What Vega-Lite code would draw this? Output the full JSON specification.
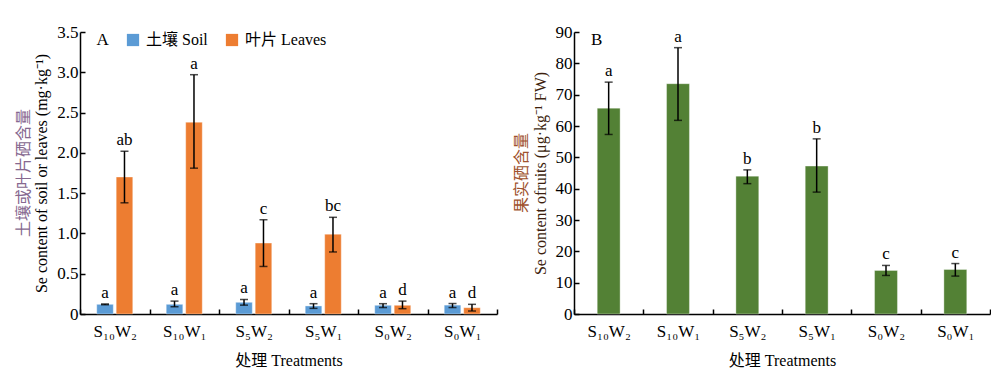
{
  "$schema": "https://vega.github.io/schema/vega-lite/v6.json",
  "padding": {"left": 15, "top": 23, "right": 0, "bottom": 0},
  "spacing": 15,
  "config": {
    "font": "Liberation Serif, Noto Sans CJK SC",
    "view": {"stroke": null},
    "axis": {
      "grid": false,
      "domainColor": "#000000",
      "domainWidth": 1.5,
      "tickColor": "#000000",
      "tickWidth": 1.5,
      "tickSize": -5,
      "labelColor": "#000000",
      "labelFontSize": 17,
      "labelFont": "Liberation Serif, Noto Sans CJK SC",
      "titleFont": "Liberation Serif, Noto Sans CJK SC",
      "titleFontSize": 16,
      "titleFontWeight": "normal",
      "titleColor": "#000000"
    },
    "legend": {
      "labelFont": "Liberation Serif, Noto Sans CJK SC",
      "labelFontSize": 16,
      "labelColor": "#000000"
    },
    "title": {"font": "Liberation Serif, Noto Sans CJK SC", "fontWeight": "normal", "fontSize": 16}
  },
  "datasets": {
    "soilleaves": [
      {"treatment": "S₁₀W₂", "tissue": "土壤 Soil", "value": 0.12, "lo": 0.115, "hi": 0.125, "letter": "a"},
      {"treatment": "S₁₀W₁", "tissue": "土壤 Soil", "value": 0.12, "lo": 0.09, "hi": 0.16, "letter": "a"},
      {"treatment": "S₅W₂", "tissue": "土壤 Soil", "value": 0.145, "lo": 0.11, "hi": 0.18, "letter": "a"},
      {"treatment": "S₅W₁", "tissue": "土壤 Soil", "value": 0.10, "lo": 0.07, "hi": 0.128, "letter": "a"},
      {"treatment": "S₀W₂", "tissue": "土壤 Soil", "value": 0.108, "lo": 0.08, "hi": 0.128, "letter": "a"},
      {"treatment": "S₀W₁", "tissue": "土壤 Soil", "value": 0.11, "lo": 0.08, "hi": 0.13, "letter": "a"},
      {"treatment": "S₁₀W₂", "tissue": "叶片 Leaves", "value": 1.70, "lo": 1.38, "hi": 2.02, "letter": "ab"},
      {"treatment": "S₁₀W₁", "tissue": "叶片 Leaves", "value": 2.38, "lo": 1.81, "hi": 2.97, "letter": "a"},
      {"treatment": "S₅W₂", "tissue": "叶片 Leaves", "value": 0.88, "lo": 0.59, "hi": 1.17, "letter": "c"},
      {"treatment": "S₅W₁", "tissue": "叶片 Leaves", "value": 0.99, "lo": 0.77, "hi": 1.20, "letter": "bc"},
      {"treatment": "S₀W₂", "tissue": "叶片 Leaves", "value": 0.108, "lo": 0.066, "hi": 0.16, "letter": "d"},
      {"treatment": "S₀W₁", "tissue": "叶片 Leaves", "value": 0.078, "lo": 0.037, "hi": 0.12, "letter": "d"}
    ],
    "fruits": [
      {"treatment": "S₁₀W₂", "value": 65.7, "lo": 57.3, "hi": 74.0, "letter": "a"},
      {"treatment": "S₁₀W₁", "value": 73.5, "lo": 61.8, "hi": 85.0, "letter": "a"},
      {"treatment": "S₅W₂", "value": 44.0, "lo": 41.6, "hi": 46.0, "letter": "b"},
      {"treatment": "S₅W₁", "value": 47.2, "lo": 38.9, "hi": 55.9, "letter": "b"},
      {"treatment": "S₀W₂", "value": 13.9, "lo": 12.3, "hi": 15.5, "letter": "c"},
      {"treatment": "S₀W₁", "value": 14.2, "lo": 12.1, "hi": 16.1, "letter": "c"}
    ]
  },
  "hconcat": [
    {
      "width": 417,
      "height": 282,
      "title": {"text": "土壤或叶片硒含量", "orient": "left", "anchor": "middle", "color": "#86688f", "offset": 2},
      "data": {"name": "soilleaves"},
      "encoding": {
        "x": {
          "field": "treatment", "type": "nominal", "sort": null,
          "scale": {"paddingInner": 0, "paddingOuter": 0},
          "axis": {"labelAngle": 0, "tickBand": "extent", "title": "处理 Treatments", "labelPadding": 14, "titlePadding": 13}
        },
        "xOffset": {
          "field": "tissue", "type": "nominal", "sort": ["土壤 Soil", "叶片 Leaves"],
          "scale": {"paddingInner": 0.15, "paddingOuter": 0.86}
        }
      },
      "layer": [
        {
          "mark": {"type": "bar", "stroke": "#ffffff", "strokeOpacity": 0.35, "strokeWidth": 1},
          "encoding": {
            "y": {
              "field": "value", "type": "quantitative",
              "scale": {"domain": [0, 3.5], "nice": false},
              "axis": {"values": [0, 0.5, 1, 1.5, 2, 2.5, 3, 3.5], "labelExpr": "datum.value == 0 ? '0' : format(datum.value, '.1f')", "title": "Se content of soil or leaves (mg·kg⁻¹)", "labelPadding": 7, "titlePadding": 7}
            },
            "color": {
              "field": "tissue", "type": "nominal", "sort": ["土壤 Soil", "叶片 Leaves"],
              "scale": {"domain": ["土壤 Soil", "叶片 Leaves"], "range": ["#5b9bd5", "#ed7d31"]},
              "legend": {"title": null, "orient": "none", "legendX": 45, "legendY": 0, "direction": "horizontal", "symbolType": "square", "symbolSize": 150, "symbolStrokeWidth": 0, "symbolOpacity": 1, "labelOffset": 5, "columnPadding": 16}
            }
          }
        },
        {
          "mark": {"type": "rule", "color": "#000000", "strokeWidth": 1.5},
          "encoding": {
            "y": {"field": "lo", "type": "quantitative", "axis": {"values": [0, 0.5, 1, 1.5, 2, 2.5, 3, 3.5], "labelExpr": "datum.value == 0 ? '0' : format(datum.value, '.1f')", "title": "Se content of soil or leaves (mg·kg⁻¹)", "labelPadding": 7, "titlePadding": 7}},
            "y2": {"field": "hi"}
          }
        },
        {
          "mark": {"type": "tick", "orient": "horizontal", "color": "#000000", "size": 8, "thickness": 1.5},
          "encoding": {"y": {"field": "lo", "type": "quantitative", "axis": {"values": [0, 0.5, 1, 1.5, 2, 2.5, 3, 3.5], "labelExpr": "datum.value == 0 ? '0' : format(datum.value, '.1f')", "title": "Se content of soil or leaves (mg·kg⁻¹)", "labelPadding": 7, "titlePadding": 7}}}
        },
        {
          "mark": {"type": "tick", "orient": "horizontal", "color": "#000000", "size": 8, "thickness": 1.5},
          "encoding": {"y": {"field": "hi", "type": "quantitative", "axis": {"values": [0, 0.5, 1, 1.5, 2, 2.5, 3, 3.5], "labelExpr": "datum.value == 0 ? '0' : format(datum.value, '.1f')", "title": "Se content of soil or leaves (mg·kg⁻¹)", "labelPadding": 7, "titlePadding": 7}}}
        },
        {
          "mark": {"type": "text", "fontSize": 17, "baseline": "alphabetic", "dy": -6, "color": "#000000"},
          "encoding": {"y": {"field": "hi", "type": "quantitative", "axis": {"values": [0, 0.5, 1, 1.5, 2, 2.5, 3, 3.5], "labelExpr": "datum.value == 0 ? '0' : format(datum.value, '.1f')", "title": "Se content of soil or leaves (mg·kg⁻¹)", "labelPadding": 7, "titlePadding": 7}}, "text": {"field": "letter"}}
        },
        {
          "data": {"values": [{"lab": "A"}]},
          "mark": {"type": "text", "fontSize": 17, "baseline": "middle", "dx": -12, "color": "#000000"},
          "encoding": {"x": {"datum": "S₁₀W₂"}, "xOffset": null, "y": {"datum": 3.40, "axis": {"values": [0, 0.5, 1, 1.5, 2, 2.5, 3, 3.5], "labelExpr": "datum.value == 0 ? '0' : format(datum.value, '.1f')", "title": "Se content of soil or leaves (mg·kg⁻¹)", "labelPadding": 7, "titlePadding": 7}}, "text": {"field": "lab"}}
        }
      ]
    },
    {
      "width": 416,
      "height": 282,
      "title": {"text": "果实硒含量", "orient": "left", "anchor": "middle", "color": "#a0522d", "offset": 2},
      "data": {"name": "fruits"},
      "encoding": {
        "x": {
          "field": "treatment", "type": "nominal", "sort": null,
          "scale": {"paddingInner": 0, "paddingOuter": 0},
          "axis": {"labelAngle": 0, "tickBand": "extent", "title": "处理 Treatments", "labelPadding": 14, "titlePadding": 13}
        }
      },
      "layer": [
        {
          "mark": {"type": "bar", "color": "#538135", "width": {"band": 0.33}, "stroke": "#ffffff", "strokeOpacity": 0.35, "strokeWidth": 1},
          "encoding": {
            "y": {
              "field": "value", "type": "quantitative",
              "scale": {"domain": [0, 90], "nice": false},
              "axis": {"values": [0, 10, 20, 30, 40, 50, 60, 70, 80, 90], "title": "Se content ofruits (μg·kg⁻¹ FW)", "titleColor": "#3d1f0e", "labelPadding": 7, "titlePadding": 7}
            }
          }
        },
        {
          "mark": {"type": "rule", "color": "#000000", "strokeWidth": 1.5},
          "encoding": {
            "y": {"field": "lo", "type": "quantitative", "axis": {"values": [0, 10, 20, 30, 40, 50, 60, 70, 80, 90], "title": "Se content ofruits (μg·kg⁻¹ FW)", "titleColor": "#3d1f0e", "labelPadding": 7, "titlePadding": 7}},
            "y2": {"field": "hi"}
          }
        },
        {
          "mark": {"type": "tick", "orient": "horizontal", "color": "#000000", "size": 8, "thickness": 1.5},
          "encoding": {"y": {"field": "lo", "type": "quantitative", "axis": {"values": [0, 10, 20, 30, 40, 50, 60, 70, 80, 90], "title": "Se content ofruits (μg·kg⁻¹ FW)", "titleColor": "#3d1f0e", "labelPadding": 7, "titlePadding": 7}}}
        },
        {
          "mark": {"type": "tick", "orient": "horizontal", "color": "#000000", "size": 8, "thickness": 1.5},
          "encoding": {"y": {"field": "hi", "type": "quantitative", "axis": {"values": [0, 10, 20, 30, 40, 50, 60, 70, 80, 90], "title": "Se content ofruits (μg·kg⁻¹ FW)", "titleColor": "#3d1f0e", "labelPadding": 7, "titlePadding": 7}}}
        },
        {
          "mark": {"type": "text", "fontSize": 17, "baseline": "alphabetic", "dy": -6, "color": "#000000"},
          "encoding": {"y": {"field": "hi", "type": "quantitative", "axis": {"values": [0, 10, 20, 30, 40, 50, 60, 70, 80, 90], "title": "Se content ofruits (μg·kg⁻¹ FW)", "titleColor": "#3d1f0e", "labelPadding": 7, "titlePadding": 7}}, "text": {"field": "letter"}}
        },
        {
          "data": {"values": [{"lab": "B"}]},
          "mark": {"type": "text", "fontSize": 17, "baseline": "middle", "dx": -12, "color": "#000000"},
          "encoding": {"x": {"datum": "S₁₀W₂"}, "y": {"datum": 87.3, "axis": {"values": [0, 10, 20, 30, 40, 50, 60, 70, 80, 90], "title": "Se content ofruits (μg·kg⁻¹ FW)", "titleColor": "#3d1f0e", "labelPadding": 7, "titlePadding": 7}}, "text": {"field": "lab"}}
        }
      ]
    }
  ]
}
